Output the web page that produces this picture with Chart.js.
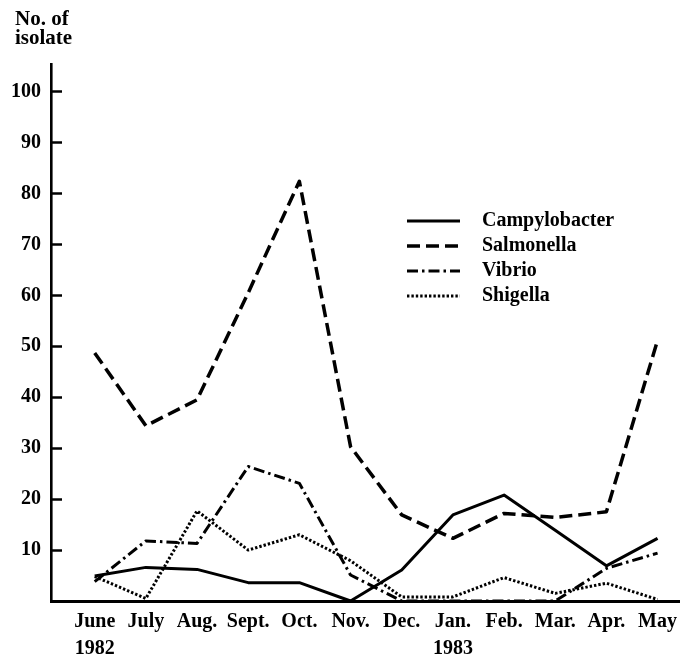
<!DOCTYPE html>
<html>
<head>
<meta charset="utf-8">
<script src="https://cdn.jsdelivr.net/npm/chart.js@4.4.1/dist/chart.umd.min.js"></script>
<style>
  html, body { margin: 0; padding: 0; background: #ffffff; }
  #wrap { width: 684px; height: 666px; position: relative; }
</style>
</head>
<body>
<div id="wrap"><canvas id="c" width="684" height="666"></canvas></div>
<script>
// ---- data ----
const months = ['June', 'July', 'Aug.', 'Sept.', 'Oct.', 'Nov.', 'Dec.', 'Jan.', 'Feb.', 'Mar.', 'Apr.', 'May'];
const years  = ['1982', '', '', '', '', '', '', '1983', '', '', '', ''];
const yTickValues = [10, 20, 30, 40, 50, 60, 70, 80, 90, 100];

const campylobacter = [4.9, 6.6, 6.2, 3.6, 3.6, 0, 6.1, 16.9, 20.8, 13.9, 6.9, 12.3];
const salmonella    = [48.7, 34.4, 39.5, 60.5, 82.4, 30.3, 16.9, 12.3, 17.2, 16.4, 17.5, 51.2];
const vibrio        = [3.8, 11.8, 11.3, 26.4, 23.1, 5.1, 0, 0, 0, 0, 6.4, 9.4];
const shigella      = [4.8, 0.5, 17.7, 10.0, 13.0, 7.9, 0.8, 0.8, 4.6, 1.5, 3.5, 0.3];

const seriesNames = ['Campylobacter', 'Salmonella', 'Vibrio', 'Shigella'];
const seriesValues = [campylobacter, salmonella, vibrio, shigella];

const FONT = '"Liberation Serif", "DejaVu Serif", serif';
const styles = [
  { borderWidth: 3,   borderDash: [] },
  { borderWidth: 3.5, borderDash: [13, 6] },
  { borderWidth: 3,   borderDash: [11, 4, 2.5, 4] },
  { borderWidth: 3,   borderDash: [2.4, 2] }
];

const datasets = seriesNames.map((name, k) => ({
  label: name,
  data: seriesValues[k].map((v, i) => ({ x: i, y: v })),
  borderColor: '#000',
  backgroundColor: '#000',
  borderWidth: styles[k].borderWidth,
  borderDash: styles[k].borderDash,
  borderJoinStyle: 'round',
  pointRadius: 0,
  tension: 0,
  fill: false,
  clip: false
}));

// legend drawn from dataset labels/styles, placed inside the plot
const innerLegend = {
  id: 'innerLegend',
  afterLayout(chart) {
    // nudge the axis caption to sit over the tick labels as in the original
    if (chart.titleBlock) {
      chart.titleBlock.left += 9;
      chart.titleBlock.right += 9;
    }
  },
  afterDatasetsDraw(chart) {
    const ctx = chart.ctx;
    const x0 = 407, x1 = 460, tx = 482;
    const rows = [221, 246, 271, 296];
    ctx.save();
    chart.data.datasets.forEach((ds, k) => {
      const y = rows[k];
      ctx.strokeStyle = ds.borderColor;
      ctx.lineWidth = ds.borderWidth;
      ctx.setLineDash(ds.borderDash || []);
      ctx.beginPath();
      ctx.moveTo(x0, y);
      ctx.lineTo(x1, y);
      ctx.stroke();
      ctx.setLineDash([]);
      ctx.fillStyle = '#000';
      ctx.font = 'bold 20px ' + FONT;
      ctx.textAlign = 'left';
      ctx.textBaseline = 'middle';
      ctx.fillText(ds.label, tx, y);
    });
    ctx.restore();
  }
};

new Chart(document.getElementById('c'), {
  type: 'line',
  data: { datasets },
  plugins: [innerLegend],
  options: {
    responsive: false,
    animation: false,
    devicePixelRatio: 1,
    layout: { padding: { left: 6, right: 0, top: 0, bottom: 0 } },
    plugins: {
      legend: { display: false },
      tooltip: { enabled: false },
      title: {
        display: true,
        text: ['No. of', 'isolate'],
        align: 'start',
        color: '#000',
        font: { family: FONT, size: 21, weight: 'bold', lineHeight: 0.92 },
        padding: { top: 10, bottom: 16 }
      }
    },
    scales: {
      x: {
        type: 'linear',
        min: -0.854,
        max: 11.43,
        afterBuildTicks(scale) { scale.ticks = months.map((m, i) => ({ value: i })); },
        afterFit(scale) { scale.height = 65; },
        grid: { display: true, drawOnChartArea: false, drawTicks: false },
        border: { display: true, color: '#000', width: 3 },
        ticks: {
          autoSkip: false,
          maxRotation: 0,
          minRotation: 0,
          padding: 7,
          color: '#000',
          font: { family: FONT, size: 20, weight: 'bold', lineHeight: 1.35 },
          callback(value, index) {
            return years[index] ? [months[index], years[index]] : months[index];
          }
        }
      },
      y: {
        type: 'linear',
        min: 0,
        max: 105.3,
        afterBuildTicks(scale) { scale.ticks = yTickValues.map(v => ({ value: v })); },
        afterFit(scale) { scale.width = 45; },
        grid: {
          display: true,
          drawOnChartArea: false,
          drawTicks: true,
          tickLength: -11,
          tickWidth: 2.5,
          tickColor: '#000',
          color: '#000'
        },
        border: { display: true, color: '#000', width: 2.6 },
        ticks: {
          padding: 21,
          color: '#000',
          font: { family: FONT, size: 20, weight: 'bold' },
          callback(value) { return String(value); }
        }
      }
    }
  }
});
</script>
</body>
</html>
